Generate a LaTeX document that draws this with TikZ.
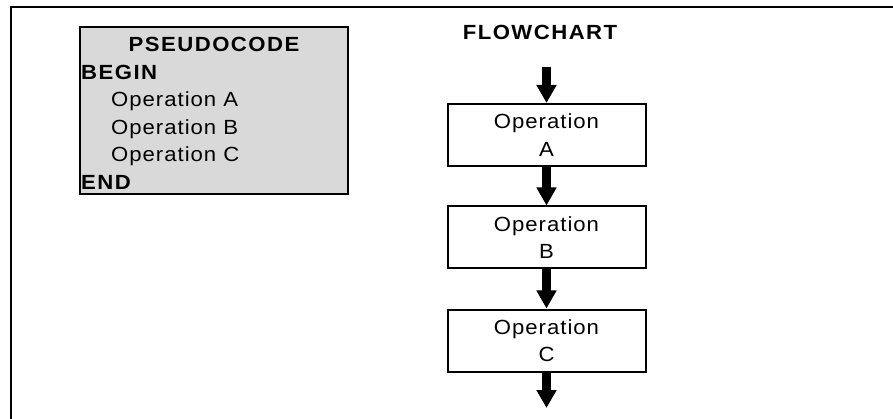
\documentclass[tikz,border=0pt]{standalone}
\usepackage{fontspec}
\setmainfont{Liberation Sans}[FakeStretch=1.08, LetterSpace=4.8, BoldFeatures={LetterSpace=7.2}]
\usetikzlibrary{arrows.meta}
\definecolor{codegray}{RGB}{217,217,217}
\tikzset{
  txt/.style={inner sep=0pt, font=\fontsize{20.5}{27.5}\selectfont},
  head/.style={txt, font=\fontsize{20.5}{27.5}\selectfont\bfseries, anchor=base},
  codeline/.style={txt, anchor=base west},
  opbox/.style={draw, line width=2pt, minimum width=198pt, minimum height=62pt,
    inner sep=0pt, align=center, font=\fontsize{20.5}{27.5}\selectfont},
  flowarrow/.style={line width=8.5pt, -{Triangle[length=18pt,width=19pt]}}
}
\begin{document}
\begin{tikzpicture}[x=1pt,y=-1pt]
  \useasboundingbox (0,0) rectangle (893,419);
  % page frame
  \draw[line width=2.5pt] (11,425) -- (11,7) -- (900,7);

  % pseudocode panel
  \node[fill=codegray, minimum width=268pt, minimum height=167pt, inner sep=0pt] (code) at (214,110.5) {};
  \node[head] (codetitle) at (214,52) {PSEUDOCODE};
  \node[codeline, font=\fontsize{20.5}{27.5}\selectfont\bfseries] (begin) at (81,79.5) {BEGIN};
  \node[codeline] (lineA) at (111,107) {Operation A};
  \node[codeline] (lineB) at (111,134.5) {Operation B};
  \node[codeline] (lineC) at (111,162) {Operation C};
  \node[codeline, font=\fontsize{20.5}{27.5}\selectfont\bfseries] (end) at (81,190) {END};
  \draw[line width=1.5pt] (code.south west) rectangle (code.north east);

  % flowchart
  \node[head] (flowtitle) at (540,40) {FLOWCHART};
  \node[opbox] (opA) at (546.5,135) {Operation\\A};
  \node[opbox] (opB) at (546.5,237.5) {Operation\\B};
  \node[opbox] (opC) at (546.5,340.5) {Operation\\C};
  \coordinate (start) at (546.5,67);
  \coordinate (finish) at (546.5,408);
  \draw[flowarrow] (start) -- (opA.north);
  \draw[flowarrow] (opA.south) -- (opB.north);
  \draw[flowarrow] (opB.south) -- (opC.north);
  \draw[flowarrow] (opC.south) -- (finish);
\end{tikzpicture}
\end{document}
